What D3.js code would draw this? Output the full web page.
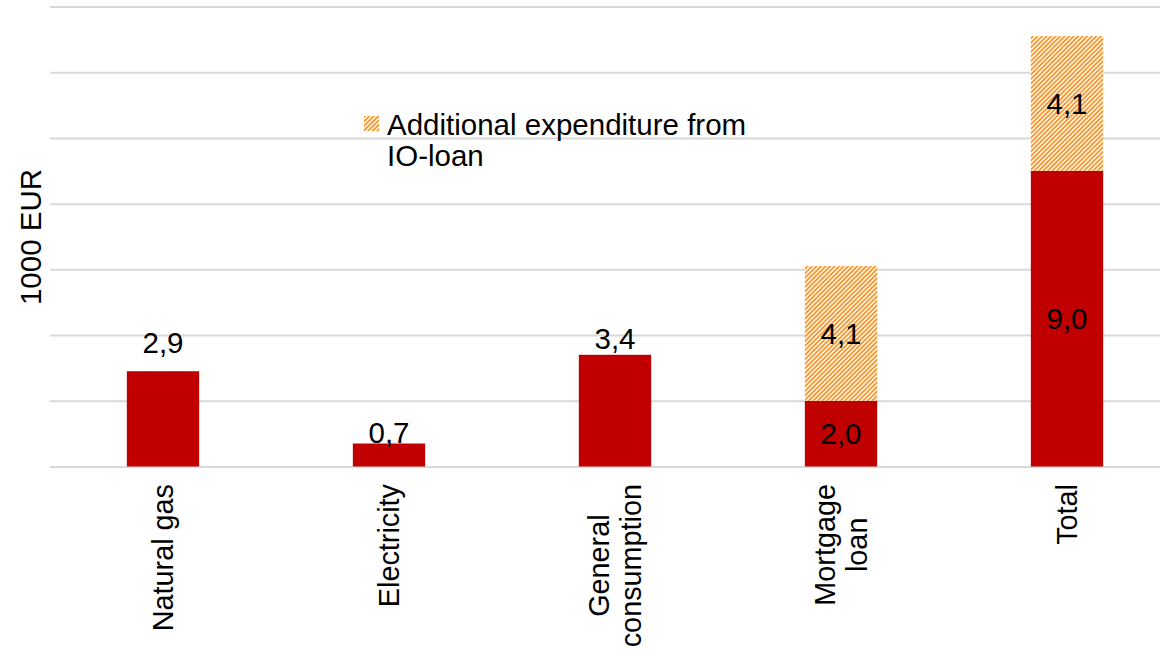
<!DOCTYPE html>
<html>
<head>
<meta charset="utf-8">
<script src="https://cdn.jsdelivr.net/npm/d3@7"></script>
<style>
  html, body { margin: 0; padding: 0; background: #fff; }
  svg text { font-family: "Liberation Sans", Arial, sans-serif; fill: #000; }
</style>
</head>
<body>
<svg id="chart" width="1160" height="650"></svg>
<script>
// Expenditure components (1000 EUR)
const categories = ["Natural gas", "Electricity", "General consumption", "Mortgage loan", "Total"];
const categoryLines = [["Natural gas"], ["Electricity"], ["General", "consumption"], ["Mortgage", "loan"], ["Total"]];
const baseValues = [2.9, 0.7, 3.4, 2.0, 9.0];
const ioLoanValues = [0, 0, 0, 4.1, 4.1];
const gridTicks = [0, 2, 4, 6, 8, 10, 12, 14];
const legendLines = ["Additional expenditure from", "IO-loan"];
const yTitle = "1000 EUR";

const fmt = v => v.toFixed(1).replace(".", ",");

const svg = d3.select("#chart");
const W = 1160, H = 650;
const FS = 29.5;
const plot = { left: 50, right: 1180, top: 6.5, bottom: 466.5 };

const x = d3.scaleBand()
  .domain(categories)
  .range([plot.left, plot.right])
  .paddingInner(0.68)
  .paddingOuter(0.34);

const y = d3.scaleLinear().domain([0, 14]).range([plot.bottom, plot.top]);

// fine upward-diagonal hatch for the IO-loan segment
const defs = svg.append("defs");
const pat = defs.append("pattern")
  .attr("id", "hatch")
  .attr("patternUnits", "userSpaceOnUse")
  .attr("width", 3.2).attr("height", 3.2)
  .attr("patternTransform", "rotate(45)");
pat.append("rect").attr("width", 3.2).attr("height", 3.2).attr("fill", "#fff");
pat.append("rect").attr("width", 1.8).attr("height", 3.2).attr("fill", "#FA9426");

// gridlines
const grid = d3.axisLeft(y).tickValues(gridTicks).tickSize(-(W - plot.left)).tickFormat("");
svg.append("g")
  .attr("transform", `translate(${plot.left},0)`)
  .call(grid)
  .call(g => g.select(".domain").remove())
  .call(g => g.selectAll("line").attr("stroke", "#d9d9d9").attr("stroke-width", 2));

// base bars
svg.append("g").selectAll("rect")
  .data(categories)
  .join("rect")
  .attr("x", d => x(d))
  .attr("width", x.bandwidth())
  .attr("y", (d, i) => y(baseValues[i]))
  .attr("height", (d, i) => y(0) - y(baseValues[i]))
  .attr("fill", "#C00000");

// stacked IO-loan segments
svg.append("g").selectAll("rect")
  .data(categories.filter((d, i) => ioLoanValues[i] > 0))
  .join("rect")
  .attr("x", d => x(d))
  .attr("width", x.bandwidth())
  .attr("y", d => { const i = categories.indexOf(d); return y(baseValues[i] + ioLoanValues[i]); })
  .attr("height", d => { const i = categories.indexOf(d); return y(baseValues[i]) - y(baseValues[i] + ioLoanValues[i]); })
  .attr("fill", "url(#hatch)");

// value labels: single bars labelled above, stacked bars labelled inside
const labelGap = [18, 1, 6];
const labels = svg.append("g").attr("font-size", FS);
categories.forEach((c, i) => {
  const cx = x(c) + x.bandwidth() / 2;
  if (ioLoanValues[i] > 0) {
    labels.append("text")
      .attr("x", cx).attr("y", (y(0) + y(baseValues[i])) / 2)
      .attr("text-anchor", "middle").attr("dominant-baseline", "central")
      .text(fmt(baseValues[i]));
    labels.append("text")
      .attr("x", cx).attr("y", (y(baseValues[i]) + y(baseValues[i] + ioLoanValues[i])) / 2)
      .attr("text-anchor", "middle").attr("dominant-baseline", "central")
      .text(fmt(ioLoanValues[i]));
  } else {
    labels.append("text")
      .attr("x", cx).attr("y", y(baseValues[i]) - labelGap[i])
      .attr("text-anchor", "middle")
      .text(fmt(baseValues[i]));
  }
});

// rotated category labels
const catG = svg.append("g").attr("font-size", 28.8);
categories.forEach((c, i) => {
  const cx = x(c) + x.bandwidth() / 2;
  const lines = categoryLines[i];
  const g = catG.append("g");
  const texts = lines.map((ln, k) => g.append("text")
    .attr("x", 0)
    .attr("y", (k - (lines.length - 1) / 2) * 32)
    .attr("text-anchor", "middle")
    .attr("dominant-baseline", "central")
    .text(ln));
  const maxLen = d3.max(texts, t => t.node().getComputedTextLength());
  g.attr("transform", `translate(${cx},${484 + maxLen / 2}) rotate(-90)`);
});

// y-axis title
svg.append("text")
  .attr("transform", `translate(30,237) rotate(-90)`)
  .attr("text-anchor", "middle")
  .attr("dominant-baseline", "central")
  .attr("font-size", FS)
  .text(yTitle);

// legend
const leg = svg.append("g");
leg.append("rect").attr("x", 364).attr("y", 116).attr("width", 15).attr("height", 15).attr("fill", "url(#hatch)");
leg.selectAll("text")
  .data(legendLines)
  .join("text")
  .attr("x", 387)
  .attr("y", (d, k) => 135 + k * 31)
  .attr("font-size", FS)
  .text(d => d);
</script>
</body>
</html>
